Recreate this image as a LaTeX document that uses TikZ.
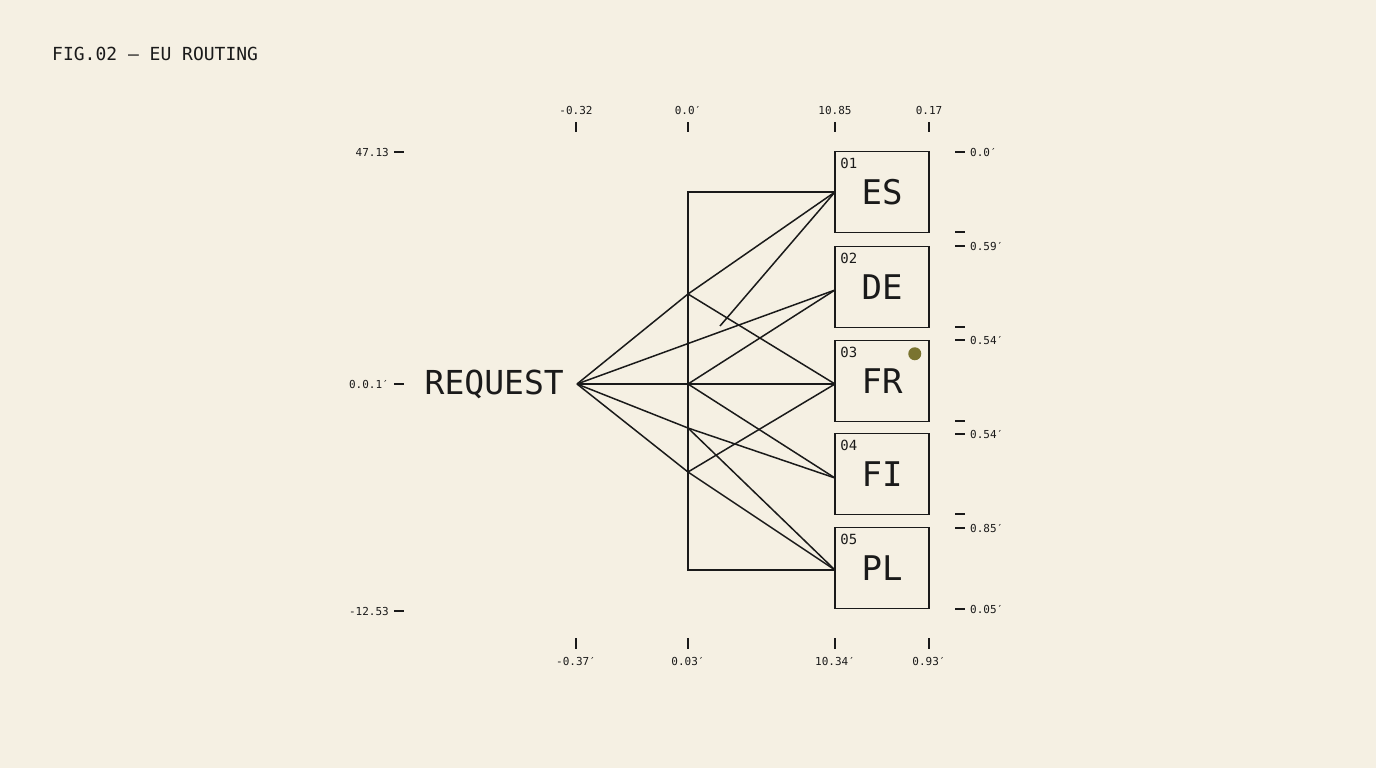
\documentclass[tikz,border=0pt]{standalone}
\usepackage{fontspec}
\setmonofont{DejaVu Sans Mono}
\usetikzlibrary{positioning}
\definecolor{paper}{HTML}{F5F0E3}
\definecolor{ink}{HTML}{1A1A1A}
\definecolor{olive}{HTML}{7A7430}
\tikzset{
  box/.style={draw=ink, line width=1.5pt, minimum width=94pt, minimum height=81pt, inner sep=0pt, font=\ttfamily\fontsize{34}{34}\selectfont, text=ink},
  wire/.style={draw=ink, line width=1.5pt},
  tick/.style={draw=ink, line width=1.3pt},
  lbl/.style={font=\ttfamily\fontsize{11}{11}\selectfont, text=ink, inner sep=0pt},
  num/.style={font=\ttfamily\fontsize{14}{14}\selectfont, text=ink, inner sep=0pt, anchor=north west}
}
\begin{document}
\begin{tikzpicture}[x=1pt, y=-1pt]
\fill [paper] (0,0) rectangle (1376,768);
\useasboundingbox (0,0) rectangle (1376,768);
\node [anchor=west, font=\ttfamily\fontsize{18}{18}\selectfont, text=ink, inner sep=0pt] (title) at (52,54) {FIG.02 — EU ROUTING};
\node [anchor=east, font=\ttfamily\fontsize{33}{33}\selectfont, text=ink, inner sep=0pt] (req) at (564,384) {REQUEST};
\coordinate (r) at (577,384);
% boxes
\foreach \n/\code/\y in {es/ES/192, de/DE/287, fr/FR/381, fi/FI/474, pl/PL/568} {
  \node [box] (\n) at (882,\y) {\code};
}
\foreach \n/\k in {es/01, de/02, fr/03, fi/04, pl/05}
  \node [num] at ([shift={(6,7)}]\n.north west) {\k};
\fill [olive] ([shift={(-15,14)}]fr.north east) circle (6.5);
% junctions on the bus
\coordinate (j1) at (688,294);
\coordinate (j2) at (688,384);
\coordinate (j3) at (688,428);
\coordinate (j4) at (688,472);
\coordinate (k) at (720,326);
\coordinate (es in) at (835,192);
\coordinate (de in) at (835,290);
\coordinate (fr in) at (835,384);
\coordinate (fi in) at (835,478);
\coordinate (pl in) at (835,570);
\draw [wire] (es in) -- (688,192) -- (688,570) -- (pl in);
\draw [wire] (r) -- (j1) -- (es in);
\draw [wire] (j1) -- (fr in);
\draw [wire] (r) -- (de in);
\draw [wire] (k) -- (es in);
\draw [wire] (r) -- (fr in);
\draw [wire] (j2) -- (de in);
\draw [wire] (j2) -- (fi in);
\draw [wire] (r) -- (j3) -- (fi in);
\draw [wire] (j3) -- (pl in);
\draw [wire] (r) -- (j4) -- (pl in);
\draw [wire] (j4) -- (fr in);
% top and bottom rulers
\foreach \x/\top/\bot in {576/{-0.32}/{-0.37′}, 688/{0.0′}/{0.03′}, 835/{10.85}/{10.34′}, 929/{0.17}/{0.93′}} {
  \draw [tick] (\x,122) -- (\x,132);
  \node [lbl] at (\x,110) {\top};
  \draw [tick] (\x,638) -- (\x,649);
  \node [lbl] at (\x,661) {\bot};
}
% left ruler
\foreach \y/\t in {152/47.13, 384/0.0.1′, 611/-12.53} {
  \draw [tick] (394,\y) -- (404,\y);
  \node [lbl, anchor=east] at (389,\y) {\t};
}
% right ruler
\foreach \y/\t in {152/0.0′, 246/0.59′, 340/0.54′, 434/0.54′, 528/0.85′, 609/0.05′} {
  \draw [tick] (955,\y) -- (965,\y);
  \node [lbl, anchor=west] at (970,\y) {\t};
}
\foreach \y in {232,327,421,514}
  \draw [tick] (955,\y) -- (965,\y);
\end{tikzpicture}
\end{document}
